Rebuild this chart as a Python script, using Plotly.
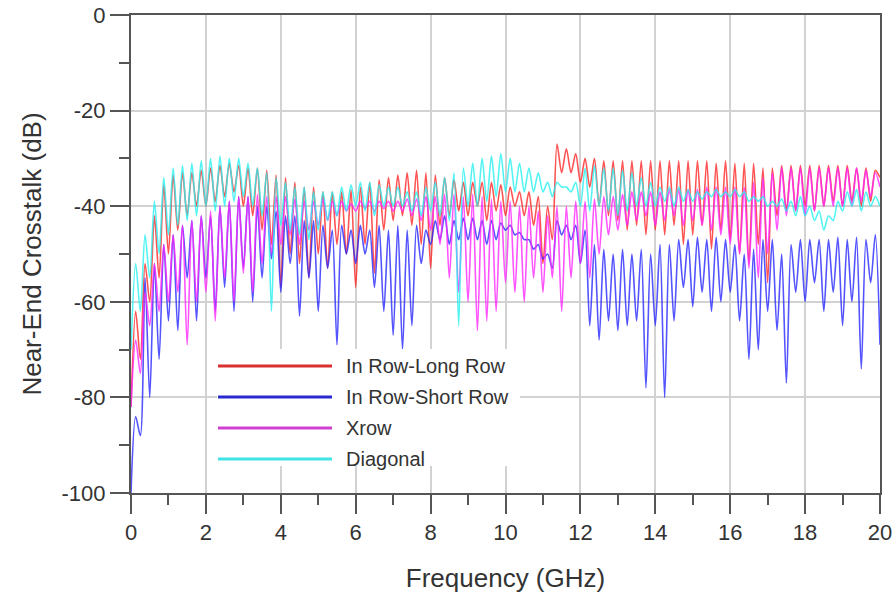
import numpy as np
import plotly.graph_objects as go

# Frequency sampling grid (GHz), 0.125 GHz steps from 0 to 20
freq = np.arange(161) * 0.125

# Near-end crosstalk (dB) (alternating troughs / peaks)
in_row_long = [
    -82, -62, -72, -52, -60, -42, -55, -35.5,
    -50, -33.5, -45, -33, -42, -33, -40, -32.5,
    -40, -32, -39, -31.5, -38, -31, -37, -31.5,
    -40, -32, -42, -32, -45, -32.5, -48, -33.5,
    -57, -34, -50, -35, -52, -36, -55, -36,
    -50, -37, -53, -37, -48, -37, -50, -36.5,
    -57, -36, -48, -35, -54, -34.5, -45, -34,
    -43, -33.5, -42, -33, -44, -32.5, -48, -33,
    -53, -33.5, -44, -34, -42, -34.5, -41, -35,
    -42, -35, -40, -35, -43, -35, -41, -35.5,
    -42, -36, -40, -37, -42, -37, -44, -38,
    -52, -40, -47, -27, -33, -28, -33, -29,
    -35, -30, -36, -30, -40, -30.5, -42, -30.5,
    -43, -30.5, -45, -30.5, -44, -30.5, -46, -30.5,
    -45, -30.5, -46, -30.5, -44, -30.5, -48, -30.5,
    -46, -30.5, -44, -30.5, -49, -31, -45, -30.5,
    -47, -31, -50, -31, -52, -31, -48, -32,
    -56, -32, -42, -31.5, -41, -31.5, -41, -31.5,
    -40, -31.5, -41, -31.5, -40, -31.5, -39, -31.5,
    -40, -31.5, -39, -32, -40, -32, -39, -32.5,
    -34,
]

in_row_short = [
    -100, -84, -88, -55, -80, -52, -72, -48,
    -64, -46, -66, -44, -55, -43, -64, -42,
    -55, -42, -62, -40, -57, -39, -62, -38,
    -53, -38, -60, -40, -55, -40, -51, -41,
    -58, -42, -52, -42, -63, -43, -55, -43,
    -62, -44, -53, -45, -69, -44, -50, -45,
    -52, -44, -50, -45, -57, -44, -62, -45,
    -67, -44, -70, -45, -65, -44, -52, -45,
    -48, -43, -47, -42, -48, -43, -47, -42.5,
    -47, -42.5, -47, -43, -48, -43, -47, -43.5,
    -45, -44, -46, -45.5, -47, -47, -49, -48,
    -51, -50, -53, -43, -46, -44, -47, -44,
    -52, -45, -65, -48, -68, -49, -64, -50,
    -66, -49, -65, -50, -64, -49, -78, -50,
    -65, -48, -80, -48, -64, -47, -57, -47,
    -61, -46.5, -58, -47, -62, -46.5, -60, -47,
    -58, -48, -64, -50, -72, -49, -70, -47,
    -62, -47, -66, -50, -77, -48, -58, -47,
    -60, -47, -56, -47, -62, -47, -58, -46.5,
    -65, -47, -60, -46.5, -74, -47, -56, -46,
    -69,
]

xrow = [
    -82, -68, -75, -58, -65, -52, -62, -48,
    -60, -46, -58, -44, -69, -43, -60, -42,
    -58, -41, -64, -40, -55, -39, -60, -38,
    -54, -38, -58, -37.5, -52, -38, -50, -38,
    -48, -38, -46, -38.5, -48, -39, -45, -39,
    -44, -38.5, -43, -39, -42, -39, -41, -39.5,
    -41, -39, -40.5, -39, -41, -39, -40.5, -39,
    -41, -39, -41, -38.5, -42, -38.5, -43, -38,
    -45, -38, -48, -37.5, -55, -37.5, -58, -38,
    -60, -37.5, -66, -38, -64, -38.5, -62, -39,
    -56, -39, -58, -40, -60, -40, -55, -41,
    -58, -42, -55, -40, -62, -40, -55, -39,
    -52, -39, -55, -38.5, -50, -38, -46, -38,
    -45, -37.5, -44, -37, -43, -37, -42, -37,
    -44, -37, -43, -36.5, -42, -36.5, -44, -36.5,
    -43, -36.5, -44, -36, -45, -36, -46, -36,
    -48, -36, -50, -36, -53, -35, -55, -34,
    -50, -33, -45, -32, -42, -32, -41, -32,
    -42, -32, -41, -32, -40, -32, -40, -32,
    -40, -32, -40, -32, -39, -32.5, -38, -33,
    -36,
]

diagonal = [
    -70, -52, -62, -46, -55, -39, -50, -34,
    -46, -32, -44, -31.5, -43, -31, -42, -30.5,
    -40, -30, -41, -29.5, -40, -30, -39, -30,
    -38, -31, -40, -32, -42, -33, -62, -34,
    -44, -35, -45, -36, -46, -36, -47, -37,
    -45, -37, -43, -37, -42, -36, -41, -35.5,
    -40, -35, -41, -35, -42, -35.5, -40, -36,
    -40, -36, -40, -37, -41, -37, -42, -36,
    -41, -35, -42, -34, -43, -33, -65, -32,
    -40, -31, -40, -30, -39, -29.5, -38, -29,
    -37, -30, -37, -31, -37, -32, -37, -33,
    -37, -35, -38, -35, -36, -36, -37, -35,
    -40, -32, -41, -31.5, -40, -32, -41, -32,
    -42, -32.5, -41, -33, -40, -34, -40, -35,
    -40, -36, -39, -36, -40, -36, -39, -36.5,
    -39, -37, -38.5, -37, -38, -36.5, -38, -37,
    -38, -36.5, -38, -37, -39, -38, -39, -38,
    -40, -39, -40, -38.5, -41, -39, -42, -38,
    -42, -40, -43, -41, -45, -42, -43, -39,
    -41, -37, -40, -36.5, -41, -37, -40, -38,
    -40,
]

series_names = ["In Row-Long Row", "In Row-Short Row", "Xrow", "Diagonal"]
series_values = [in_row_long, in_row_short, xrow, diagonal]
line_colors = ["rgba(255,40,40,0.8)", "rgba(40,40,255,0.8)",
               "rgba(255,40,255,0.8)", "rgba(40,240,240,0.8)"]
legend_colors = ["#d83030", "#2a2ad0", "#d040d0", "#40e4e4"]

x_ticks = list(range(0, 21, 2))
x_tick_labels = [str(v) for v in x_ticks]
y_ticks = [-100, -80, -60, -40, -20, 0]
y_tick_labels = ["-100", "-80", "-60", "-40", "-20", "0"]

fig = go.Figure()
for name, vals, col in zip(series_names, series_values, line_colors):
    fig.add_trace(go.Scatter(x=freq, y=vals, mode="lines", name=name,
                             line=dict(color=col, width=1.6, shape="spline", smoothing=0.8)))

axis_common = dict(
    showline=True, linecolor="#555", linewidth=2, mirror=True,
    ticks="outside", ticklen=19, tickwidth=2, tickcolor="#555",
    showgrid=True, gridcolor="#d2d2d2", gridwidth=1.5, zeroline=False,
    tickfont=dict(size=22, color="#333"), automargin=False,
)

fig.update_xaxes(range=[0, 20], tickvals=x_ticks, ticktext=x_tick_labels,
                 minor=dict(dtick=1, ticks="outside", ticklen=10, tickwidth=2,
                            tickcolor="#555", showgrid=False),
                 title=dict(text="Frequency (GHz)", font=dict(size=26, color="#333"), standoff=24),
                 **axis_common)
fig.update_yaxes(range=[-100, 0], tickvals=y_ticks, ticktext=y_tick_labels,
                 minor=dict(dtick=10, ticks="outside", ticklen=10, tickwidth=2,
                            tickcolor="#555", showgrid=False),
                 title=dict(text="Near-End Crosstalk (dB)", font=dict(size=26, color="#333"), standoff=12),
                 **axis_common)

# Custom legend (long line samples like the original)
L, R, T, B = 131, 880, 15, 493
def px(xp):
    return (xp - L) / (R - L)
def py(yp):
    return (B - yp) / (B - T)

shapes = [dict(type="rect", xref="paper", yref="paper",
               x0=px(217), x1=px(520), y0=py(466), y1=py(349),
               fillcolor="white", line=dict(width=0), layer="above")]
annotations = []
legend_rows = [366, 397, 428, 459]
for name, col, yy in zip(series_names, legend_colors, legend_rows):
    shapes.append(dict(type="line", xref="paper", yref="paper",
                       x0=px(218), x1=px(332), y0=py(yy), y1=py(yy),
                       line=dict(color=col, width=3), layer="above"))
    annotations.append(dict(xref="paper", yref="paper", x=px(344), y=py(yy),
                            text=name, showarrow=False, xanchor="left", yanchor="middle",
                            font=dict(size=20, color="#333")))

fig.update_layout(
    width=896, height=599,
    margin=dict(l=131, r=16, t=15, b=106),
    plot_bgcolor="white", paper_bgcolor="white",
    font=dict(family="Liberation Sans, Arial, sans-serif", color="#333"),
    showlegend=False,
    shapes=shapes, annotations=annotations,
)

fig.write_html("out.html")
